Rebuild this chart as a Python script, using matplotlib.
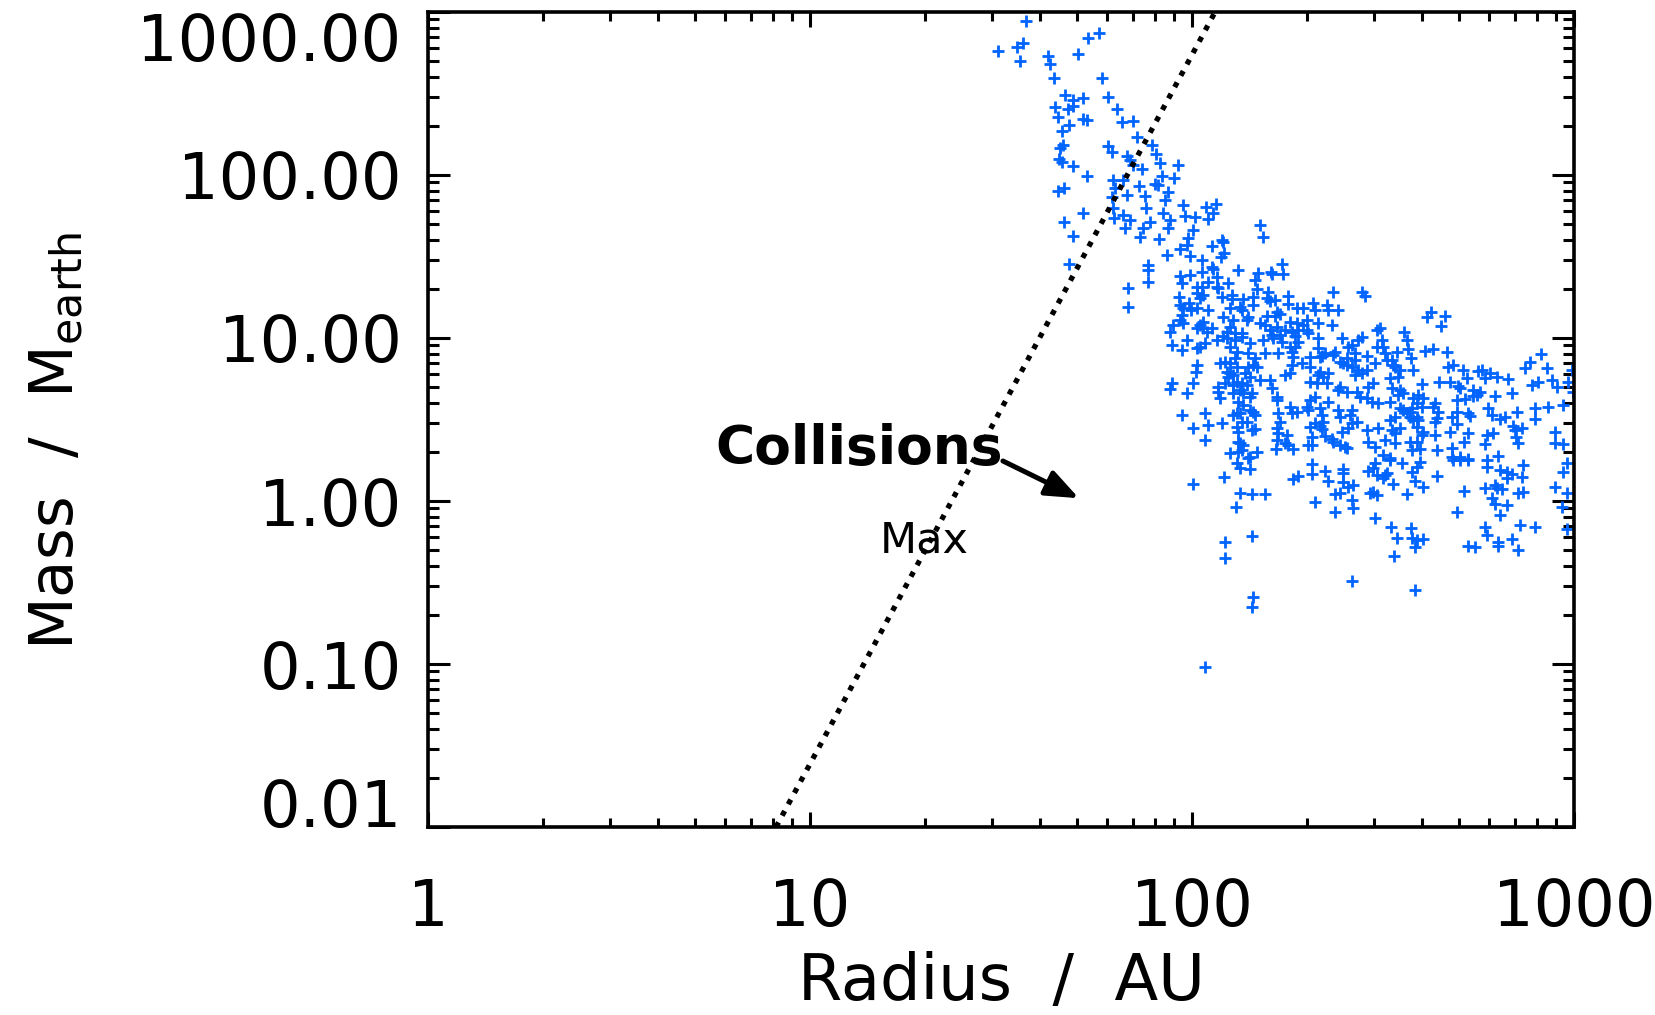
import numpy as np
import matplotlib
matplotlib.use('Agg')
import matplotlib.pyplot as plt
from matplotlib.ticker import LogLocator, NullFormatter

plt.rcParams['font.family'] = ['DejaVu Sans']
plt.rcParams['mathtext.fontset'] = 'dejavusans'

# planets as log10(radius / AU) and log10(mass / M_earth)
# upper branch (giants near the collision line)
upper_r = [1.565, 1.757, 1.728, 1.492, 1.542, 1.558, 1.550, 1.623, 1.628, 1.702,
           1.639, 1.764, 1.668, 1.688, 1.715, 1.780, 1.641, 1.675, 1.688, 1.649,
           1.715, 1.725, 1.678, 1.660, 1.804, 1.817, 1.846, 1.856, 1.895, 1.906,
           1.654, 1.662, 1.780, 1.791, 1.652, 1.660, 1.688, 1.725, 1.830, 1.838,
           1.846, 1.869, 1.916, 1.963, 1.921, 1.953, 1.793, 1.819, 1.798, 1.861,
           1.903, 1.911, 1.937, 1.791, 1.830, 1.877, 1.929, 1.649, 1.665, 1.793,
           1.880, 1.715, 1.665, 1.688, 1.796, 1.819, 1.838, 1.825, 1.872, 1.890,
           1.924, 1.942, 1.937, 1.976, 1.982, 2.008, 2.003, 2.037, 2.063, 1.864,
           1.914, 1.990, 1.987, 1.969, 1.935, 1.995, 1.885, 1.885, 1.678, 1.969, 1.995]
upper_m = [2.945, 2.871, 2.840, 2.761, 2.785, 2.810, 2.699, 2.730, 2.681, 2.742,
           2.595, 2.595, 2.491, 2.460, 2.472, 2.479, 2.417, 2.405, 2.423, 2.356,
           2.344, 2.337, 2.307, 2.270, 2.405, 2.325, 2.331, 2.233, 2.184, 2.129,
           2.166, 2.184, 2.178, 2.141, 2.098, 2.080, 2.055, 1.994, 2.117, 2.092,
           2.061, 2.037, 2.074, 2.061, 1.994, 1.982, 1.969, 1.969, 1.920, 1.933,
           1.945, 1.939, 1.896, 1.865, 1.877, 1.871, 1.847, 1.902, 1.920, 1.798,
           1.798, 1.767, 1.712, 1.626, 1.736, 1.755, 1.724, 1.675, 1.675, 1.712,
           1.767, 1.724, 1.675, 1.816, 1.748, 1.742, 1.663, 1.804, 1.822, 1.620,
           1.607, 1.613, 1.571, 1.546, 1.509, 1.503, 1.448, 1.417, 1.454, 1.380, 1.387]

# inner edge of the main cloud, r < 100 AU
inner_r = [1.885, 1.832, 1.832, 1.974, 2.013, 2.013, 1.966, 1.969, 1.992, 1.976,
           1.997, 2.013, 1.974, 1.969, 1.950, 1.976, 1.942, 2.013, 1.987, 1.948,
           1.974, 2.013, 2.013, 2.010, 2.003, 1.948, 1.942, 1.987, 1.974, 2.003]
inner_m = [1.344, 1.307, 1.190, 1.337, 1.313, 1.276, 1.252, 1.202, 1.215, 1.184,
           1.172, 1.184, 1.141, 1.110, 1.080, 1.092, 1.037, 1.061, 0.988, 0.957,
           0.926, 0.939, 0.834, 0.791, 0.724, 0.724, 0.687, 0.663, 0.528, 0.448]

# core of the cloud, 100 - 250 AU, above ~3 M_earth
core_r = [2.055, 2.042, 2.178, 2.186, 2.079, 2.081, 2.052, 2.084, 2.076, 2.026,
          2.052, 2.055, 2.026, 2.120, 2.236, 2.238, 2.173, 2.165, 2.207, 2.209,
          2.065, 2.042, 2.094, 2.065, 2.068, 2.026, 2.170, 2.199, 2.369, 2.445,
          2.453, 2.029, 2.021, 2.079, 2.105, 2.105, 2.134, 2.160, 2.196, 2.204,
          2.217, 2.251, 2.251, 2.126, 2.131, 2.099, 2.160, 2.317, 2.322, 2.353,
          2.356, 2.382, 2.275, 2.291, 2.042, 2.223, 2.230, 2.217, 2.196, 2.081,
          2.107, 2.147, 2.144, 2.029, 2.021, 2.191, 2.178, 2.257, 2.275, 2.301,
          2.291, 2.330, 2.366, 2.492, 2.484, 2.223, 2.204, 2.099, 2.092, 2.113,
          2.131, 2.029, 2.039, 2.052, 2.243, 2.262, 2.277, 2.301, 2.230, 2.236,
          2.212, 2.209, 2.270, 2.277, 2.270, 2.257, 2.304, 2.330, 2.393, 2.445,
          2.435, 2.419, 2.408, 2.497, 2.484, 2.500, 2.065, 2.092, 2.113, 2.131,
          2.081, 2.034, 2.021, 2.152, 2.147, 2.186, 2.191, 2.099, 2.118, 2.225,
          2.262, 2.264, 2.309, 2.330, 2.335, 2.348, 2.340, 2.374, 2.369, 2.406,
          2.427, 2.427, 2.458, 2.505, 2.510, 2.086, 2.073, 2.099, 2.113, 2.118,
          2.165, 2.170, 2.160, 2.147, 2.262, 2.288, 2.309, 2.395, 2.387, 2.419,
          2.406, 2.479, 2.092, 2.099, 2.107, 2.094, 2.139, 2.152, 2.243, 2.257,
          2.335, 2.356, 2.330, 2.343, 2.427, 2.445, 2.435, 2.458, 2.118, 2.131,
          2.107, 2.144, 2.126, 2.068, 2.086, 2.178, 2.204, 2.309, 2.327, 2.353,
          2.382, 2.387, 2.406, 2.432, 2.440, 2.474, 2.461, 2.068, 2.073, 2.107,
          2.134, 2.157, 2.152, 2.209, 2.223, 2.223, 2.309, 2.322, 2.356, 2.458,
          2.471, 2.487, 2.120, 2.134, 2.126, 2.118, 2.107, 2.152, 2.160, 2.165,
          2.034, 2.225, 2.257, 2.262, 2.275, 2.301, 2.304, 2.335, 2.340, 2.382,
          2.387, 2.419, 2.414]
core_m = [1.767, 1.730, 1.693, 1.620, 1.601, 1.589, 1.564, 1.521, 1.497, 1.479,
          1.436, 1.423, 1.405, 1.417, 1.454, 1.393, 1.399, 1.356, 1.405, 1.393,
          1.374, 1.344, 1.337, 1.313, 1.307, 1.313, 1.301, 1.282, 1.282, 1.282,
          1.258, 1.264, 1.245, 1.252, 1.264, 1.239, 1.239, 1.252, 1.245, 1.227,
          1.233, 1.258, 1.209, 1.190, 1.172, 1.184, 1.202, 1.215, 1.172, 1.202,
          1.172, 1.172, 1.184, 1.184, 1.172, 1.160, 1.147, 1.135, 1.135, 1.129,
          1.110, 1.129, 1.110, 1.098, 1.080, 1.080, 1.092, 1.098, 1.092, 1.110,
          1.080, 1.092, 1.080, 1.061, 1.049, 1.067, 1.049, 1.067, 1.037, 1.031,
          1.031, 1.061, 1.037, 1.061, 1.049, 1.037, 1.049, 1.049, 1.018, 0.975,
          1.000, 1.018, 1.012, 0.975, 0.945, 0.945, 1.031, 1.000, 1.000, 1.006,
          0.988, 0.957, 0.945, 0.988, 0.945, 0.945, 0.988, 1.000, 0.988, 1.006,
          1.012, 0.969, 0.945, 0.969, 0.908, 0.988, 0.908, 0.945, 0.914, 0.908,
          0.914, 0.883, 0.883, 0.939, 0.883, 0.908, 0.890, 0.914, 0.896, 0.877,
          0.908, 0.865, 0.890, 0.908, 0.865, 0.853, 0.847, 0.847, 0.877, 0.822,
          0.877, 0.822, 0.834, 0.822, 0.834, 0.847, 0.822, 0.847, 0.853, 0.822,
          0.834, 0.847, 0.791, 0.785, 0.773, 0.761, 0.785, 0.761, 0.773, 0.785,
          0.791, 0.785, 0.773, 0.761, 0.773, 0.785, 0.804, 0.804, 0.730, 0.724,
          0.712, 0.712, 0.681, 0.699, 0.724, 0.742, 0.742, 0.730, 0.724, 0.724,
          0.681, 0.699, 0.669, 0.669, 0.638, 0.724, 0.699, 0.669, 0.632, 0.663,
          0.663, 0.663, 0.638, 0.693, 0.638, 0.620, 0.620, 0.638, 0.607, 0.632,
          0.607, 0.601, 0.607, 0.589, 0.540, 0.540, 0.528, 0.558, 0.546, 0.528,
          0.540, 0.540, 0.577, 0.540, 0.546, 0.577, 0.558, 0.571, 0.528, 0.558,
          0.515, 0.558, 0.528]

# lower part of the cloud, 100 - 300 AU
lower_r = [2.042, 2.034, 2.079, 2.118, 2.120, 2.131, 2.144, 2.157, 2.165, 2.120,
           2.126, 2.134, 2.131, 2.099, 2.120, 2.170, 2.152, 2.147, 2.118, 2.126,
           2.152, 2.084, 2.003, 2.126, 2.157, 2.191, 2.115, 2.157, 2.086, 2.086,
           2.160, 2.157, 2.223, 2.225, 2.249, 2.223, 2.243, 2.251, 2.220, 2.264,
           2.230, 2.304, 2.314, 2.314, 2.309, 2.322, 2.335, 2.343, 2.340, 2.348,
           2.366, 2.369, 2.387, 2.401, 2.406, 2.393, 2.408, 2.419, 2.432, 2.458,
           2.461, 2.314, 2.314, 2.348, 2.395, 2.395, 2.461, 2.264, 2.277, 2.356,
           2.395, 2.408, 2.421, 2.374, 2.387, 2.466, 2.419, 2.421, 2.322, 2.374,
           2.419, 2.034, 2.487, 2.505, 2.479, 2.500]
lower_m = [0.466, 0.374, 0.479, 0.454, 0.423, 0.485, 0.485, 0.436, 0.442, 0.362,
           0.356, 0.344, 0.313, 0.294, 0.301, 0.301, 0.270, 0.264, 0.233, 0.202,
           0.196, 0.147, 0.104, 0.049, 0.043, 0.043, -0.037, -0.215, -0.252, -0.350,
           -0.589, -0.650, 0.448, 0.417, 0.405, 0.374, 0.356, 0.344, 0.319, 0.319,
           0.485, 0.344, 0.344, 0.393, 0.454, 0.479, 0.460, 0.485, 0.442, 0.399,
           0.380, 0.362, 0.344, 0.331, 0.325, 0.423, 0.448, 0.479, 0.485, 0.436,
           0.362, 0.227, 0.166, 0.184, 0.196, 0.172, 0.184, 0.135, 0.153, 0.123,
           0.117, 0.086, 0.098, 0.043, 0.049, 0.049, 0.006, -0.043, -0.006, -0.067,
           -0.491, -1.018, 0.448, 0.374, 0.331, 0.282]

# outer cloud beyond ~330 AU, upper half
outer_r = [2.626, 2.615, 2.662, 2.652, 2.555, 2.563, 2.537, 2.565, 2.573, 2.524,
           2.526, 2.531, 2.545, 2.579, 2.610, 2.631, 2.668, 2.518, 2.539, 2.602,
           2.647, 2.675, 2.670, 2.683, 2.709, 2.720, 2.696, 2.702, 2.749, 2.759,
           2.780, 2.767, 2.798, 2.827, 2.524, 2.545, 2.552, 2.539, 2.518, 2.579,
           2.592, 2.605, 2.589, 2.602, 2.576, 2.545, 2.552, 2.571, 2.636, 2.631,
           2.644, 2.694, 2.715, 2.736, 2.746, 2.736, 2.754, 2.793, 2.838, 2.872,
           2.885, 2.914, 2.929, 2.890, 2.906, 2.942, 2.955, 2.984, 2.531, 2.518,
           2.563, 2.571, 2.589, 2.592, 2.579, 2.641, 2.636, 2.681, 2.694, 2.723,
           2.728, 2.775, 2.785, 2.806, 2.819, 2.851, 2.898, 2.932, 2.971, 2.898,
           2.694, 2.589, 2.545, 2.524, 2.531, 2.605, 2.602, 2.636, 2.675, 2.723,
           2.772, 2.788, 2.840, 2.846, 2.864, 2.848, 2.950, 2.571, 2.589, 2.576,
           2.597, 2.531, 2.641, 2.681, 2.712, 2.767, 2.853, 2.950, 2.971, 2.518,
           2.681, 2.702, 2.723, 2.801, 2.995, 2.997]
outer_m = [1.160, 1.129, 1.135, 1.074, 1.037, 0.988, 0.914, 0.933, 0.877, 0.865,
           0.834, 0.822, 0.804, 0.804, 0.920, 0.933, 0.914, 0.755, 0.761, 0.718,
           0.730, 0.730, 0.822, 0.834, 0.804, 0.755, 0.706, 0.693, 0.798, 0.804,
           0.785, 0.755, 0.761, 0.748, 0.693, 0.681, 0.663, 0.650, 0.607, 0.632,
           0.650, 0.632, 0.601, 0.577, 0.571, 0.571, 0.558, 0.546, 0.601, 0.577,
           0.546, 0.620, 0.626, 0.681, 0.650, 0.644, 0.669, 0.644, 0.663, 0.816,
           0.853, 0.902, 0.816, 0.712, 0.730, 0.742, 0.699, 0.730, 0.515, 0.497,
           0.540, 0.515, 0.515, 0.497, 0.497, 0.509, 0.485, 0.515, 0.546, 0.540,
           0.521, 0.571, 0.528, 0.503, 0.515, 0.546, 0.571, 0.577, 0.589, 0.503,
           0.472, 0.454, 0.448, 0.436, 0.417, 0.423, 0.405, 0.405, 0.423, 0.417,
           0.405, 0.417, 0.460, 0.436, 0.448, 0.393, 0.423, 0.362, 0.362, 0.313,
           0.319, 0.356, 0.313, 0.325, 0.362, 0.350, 0.356, 0.356, 0.350, 0.264,
           0.270, 0.270, 0.258, 0.276, 0.804, 0.669]

# outer cloud, lower half
tail_r = [2.479, 2.474, 2.484, 2.505, 2.500, 2.510, 2.518, 2.550, 2.597, 2.589,
          2.576, 2.584, 2.605, 2.641, 2.526, 2.474, 2.484, 2.563, 2.479, 2.521,
          2.537, 2.573, 2.576, 2.589, 2.605, 2.584, 2.529, 2.584, 2.683, 2.702,
          2.723, 2.712, 2.694, 2.772, 2.772, 2.806, 2.825, 2.838, 2.825, 2.864,
          2.866, 2.767, 2.793, 2.798, 2.812, 2.785, 2.793, 2.825, 2.806, 2.853,
          2.866, 2.950, 2.982, 2.971, 2.982, 2.969, 2.859, 2.898, 2.767, 2.772,
          2.838, 2.801, 2.801, 2.853, 2.723, 2.741, 2.982]
tail_m = [0.233, 0.202, 0.160, 0.160, 0.141, 0.172, 0.252, 0.233, 0.239, 0.209,
          0.178, 0.123, 0.086, 0.153, 0.104, 0.055, 0.037, 0.043, -0.104, -0.160,
          -0.227, -0.166, -0.227, -0.239, -0.233, -0.282, -0.337, -0.546, 0.252, 0.252,
          0.252, 0.061, -0.067, 0.252, 0.209, 0.190, 0.178, 0.166, 0.141, 0.147,
          0.221, 0.080, 0.098, 0.080, 0.074, 0.018, -0.018, -0.025, -0.086, 0.049,
          0.055, 0.086, 0.049, 0.178, 0.233, -0.037, -0.147, -0.160, -0.160, -0.209,
          -0.233, -0.252, -0.276, -0.301, -0.276, -0.282, -0.172]

# maximum mass allowed by collisions (radius in AU, mass in M_earth)
limit_r = [8.15, 115.0]
limit_m = [0.01, 1000.0]

xticks = [1, 10, 100, 1000]
xticklabels = ['1', '10', '100', '1000']
yticks = [0.01, 0.1, 1, 10, 100, 1000]
yticklabels = ['0.01', '0.10', '1.00', '10.00', '100.00', '1000.00']

radius = 10 ** np.concatenate([upper_r, inner_r, core_r, lower_r, outer_r, tail_r])
mass = 10 ** np.concatenate([upper_m, inner_m, core_m, lower_m, outer_m, tail_m])

fig = plt.figure(figsize=(16.55, 10.15), dpi=100, facecolor='white')
ax = fig.add_axes([0.2586, 0.1852, 0.6924, 0.8030])

ax.plot(radius, mass, linestyle='none', marker='+', ms=8, mew=2.0, color='#0064ff')
ax.plot(limit_r, limit_m, color='black', lw=3.8, linestyle=(0, (1.0, 1.45)))

ax.set_xscale('log')
ax.set_yscale('log')
ax.set_xlim(1, 1000)
ax.set_ylim(0.01, 1000)

ax.set_xticks(xticks)
ax.set_xticklabels(xticklabels)
ax.set_yticks(yticks)
ax.set_yticklabels(yticklabels)
ax.xaxis.set_minor_locator(LogLocator(base=10, subs=np.arange(2, 10), numticks=100))
ax.yaxis.set_minor_locator(LogLocator(base=10, subs=np.arange(2, 10), numticks=100))
ax.xaxis.set_minor_formatter(NullFormatter())
ax.yaxis.set_minor_formatter(NullFormatter())

ax.tick_params(axis='x', which='major', direction='in', length=11, width=2.2,
               labelsize=46, pad=36, top=True)
ax.tick_params(axis='x', which='minor', direction='in', length=6.5, width=2.2, top=True)
ax.tick_params(axis='y', which='major', direction='in', length=16, width=2.2,
               labelsize=46, pad=19, right=True)
ax.tick_params(axis='y', which='minor', direction='in', length=8, width=2.2, right=True)
for sp in ax.spines.values():
    sp.set_linewidth(2.6)

# end labels of the y axis sit inside the axis range, as in the original
ylabels = ax.get_yticklabels()
ylabels[0].set_verticalalignment('baseline')
ylabels[-1].set_verticalalignment('top')

ax.set_xlabel('Radius  /  AU', fontsize=46)
ax.xaxis.set_label_coords(0.5, -0.152)
ax.set_ylabel('Mass  /  M$_{\\rm earth}$', fontsize=44)
ax.yaxis.set_label_coords(-0.2976, 0.474)

ax.text(5.67, 1.69, 'Collisions', fontsize=38.5, fontweight='bold',
        ha='left', va='baseline')
ax.text(15.25, 0.48, 'Max', fontsize=31, ha='left', va='baseline')
ax.annotate('', xy=(50.6, 1.04), xytext=(32.0, 1.76),
            arrowprops=dict(arrowstyle='-|>,head_length=2.0,head_width=0.8',
                            lw=3.6, color='black', shrinkA=0, shrinkB=0))

fig.savefig('out.png', dpi=100, facecolor='white')
